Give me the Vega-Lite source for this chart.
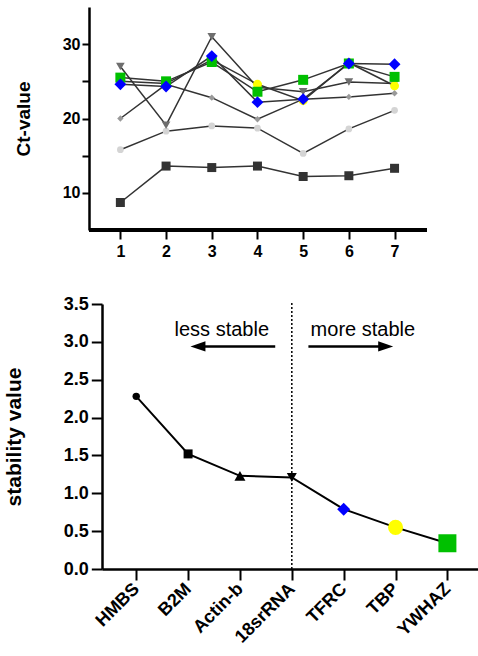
{
  "$schema": "https://vega.github.io/schema/vega-lite/v6.json",
  "padding": {"left": 3, "top": 7, "right": 0, "bottom": 0},
  "autosize": {"type": "pad"},
  "spacing": 36,
  "columns": 1,
  "resolve": {"scale": {"color": "independent", "shape": "independent", "size": "independent"}},
  "config": {
    "view": {"stroke": null},
    "font": "Liberation Sans",
    "axis": {"grid": false, "domainColor": "black", "tickColor": "black", "labelColor": "black", "titleColor": "black", "labelFontWeight": "bold", "titleFontWeight": "bold", "labelOverlap": false}
  },
  "concat": [
    {
      "width": 325,
      "height": 223,
      "data": {"values": [
        {"gene": "B2M", "sample": 1, "ct": 8.7}, {"gene": "B2M", "sample": 2, "ct": 13.6}, {"gene": "B2M", "sample": 3, "ct": 13.4}, {"gene": "B2M", "sample": 4, "ct": 13.6}, {"gene": "B2M", "sample": 5, "ct": 12.2}, {"gene": "B2M", "sample": 6, "ct": 12.3}, {"gene": "B2M", "sample": 7, "ct": 13.3},
        {"gene": "HMBS", "sample": 1, "ct": 15.8}, {"gene": "HMBS", "sample": 2, "ct": 18.3}, {"gene": "HMBS", "sample": 3, "ct": 19.0}, {"gene": "HMBS", "sample": 4, "ct": 18.7}, {"gene": "HMBS", "sample": 5, "ct": 15.3}, {"gene": "HMBS", "sample": 6, "ct": 18.6}, {"gene": "HMBS", "sample": 7, "ct": 21.1},
        {"gene": "Actin-b", "sample": 1, "ct": 20.0}, {"gene": "Actin-b", "sample": 2, "ct": 24.6}, {"gene": "Actin-b", "sample": 3, "ct": 22.8}, {"gene": "Actin-b", "sample": 4, "ct": 19.9}, {"gene": "Actin-b", "sample": 5, "ct": 22.6}, {"gene": "Actin-b", "sample": 6, "ct": 22.9}, {"gene": "Actin-b", "sample": 7, "ct": 23.4},
        {"gene": "18srRNA", "sample": 1, "ct": 27.0}, {"gene": "18srRNA", "sample": 2, "ct": 19.1}, {"gene": "18srRNA", "sample": 3, "ct": 31.0}, {"gene": "18srRNA", "sample": 4, "ct": 24.2}, {"gene": "18srRNA", "sample": 5, "ct": 23.6}, {"gene": "18srRNA", "sample": 6, "ct": 24.9}, {"gene": "18srRNA", "sample": 7, "ct": 24.7},
        {"gene": "TBP", "sample": 1, "ct": 25.0}, {"gene": "TBP", "sample": 2, "ct": 24.7}, {"gene": "TBP", "sample": 3, "ct": 27.9}, {"gene": "TBP", "sample": 4, "ct": 24.6}, {"gene": "TBP", "sample": 5, "ct": 22.4}, {"gene": "TBP", "sample": 6, "ct": 27.5}, {"gene": "TBP", "sample": 7, "ct": 24.4},
        {"gene": "YWHAZ", "sample": 1, "ct": 25.5}, {"gene": "YWHAZ", "sample": 2, "ct": 25.0}, {"gene": "YWHAZ", "sample": 3, "ct": 27.6}, {"gene": "YWHAZ", "sample": 4, "ct": 23.6}, {"gene": "YWHAZ", "sample": 5, "ct": 25.2}, {"gene": "YWHAZ", "sample": 6, "ct": 27.4}, {"gene": "YWHAZ", "sample": 7, "ct": 25.6},
        {"gene": "TFRC", "sample": 1, "ct": 24.6}, {"gene": "TFRC", "sample": 2, "ct": 24.3}, {"gene": "TFRC", "sample": 3, "ct": 28.4}, {"gene": "TFRC", "sample": 4, "ct": 22.2}, {"gene": "TFRC", "sample": 5, "ct": 22.6}, {"gene": "TFRC", "sample": 6, "ct": 27.4}, {"gene": "TFRC", "sample": 7, "ct": 27.3}
      ]},
      "layer": [
        {
          "mark": {"type": "rule", "color": "black", "strokeWidth": 2.5},
          "encoding": {
            "x": {"datum": 0.32, "type": "quantitative"},
            "x2": {"datum": 7.71},
            "y": {"datum": 5, "type": "quantitative"}
          }
        },
        {
          "encoding": {
            "x": {"field": "sample", "type": "quantitative", "scale": {"domain": [0.598, 7.71], "nice": false, "zero": false},
              "axis": {"values": [1, 2, 3, 4, 5, 6, 7], "title": null, "domain": false, "tickWidth": 2, "tickSize": 9, "labelPadding": 4, "labelFontSize": 16, "labelFlush": false, "labelOverlap": false}},
            "y": {"field": "ct", "type": "quantitative", "scale": {"domain": [5, 35], "nice": false, "zero": false},
              "axis": {"values": [10, 15, 20, 25, 30], "tickCount": 7, "offset": 13, "labelExpr": "datum.value % 10 === 0 ? datum.label : ''", "title": "Ct-value", "titleFontSize": 19, "titlePadding": 29, "domainWidth": 2.5, "tickWidth": 2, "tickSize": 7, "labelPadding": 2, "labelFontSize": 16, "labelFlush": false, "labelOverlap": false}}
          },
          "layer": [
            {"mark": {"type": "line", "color": "#333333", "strokeWidth": 1.5}, "encoding": {"detail": {"field": "gene"}}},
            {"mark": {"type": "point", "filled": true, "opacity": 1, "strokeWidth": 0},
              "encoding": {
                "shape": {"field": "gene", "legend": null, "scale": {"domain": ["B2M", "HMBS", "Actin-b", "18srRNA", "TBP", "YWHAZ", "TFRC"], "range": ["square", "circle", "diamond", "triangle-down", "circle", "square", "diamond"]}},
                "color": {"field": "gene", "legend": null, "scale": {"domain": ["B2M", "HMBS", "Actin-b", "18srRNA", "TBP", "YWHAZ", "TFRC"], "range": ["#333333", "#d4d4d4", "#999999", "#6e6e6e", "#ffff00", "#00c000", "#0000ff"]}},
                "size": {"field": "gene", "legend": null, "scale": {"type": "ordinal", "domain": ["B2M", "HMBS", "Actin-b", "18srRNA", "TBP", "YWHAZ", "TFRC"], "range": [81, 45, 40, 75, 80, 100, 140]}}
              }}
          ]
        }
      ]
    },
    {
      "width": 376,
      "height": 265,
      "layer": [
        {
          "data": {"values": [
            {"gene": "HMBS", "rank": 0, "stability": 2.28},
            {"gene": "B2M", "rank": 1, "stability": 1.52},
            {"gene": "Actin-b", "rank": 2, "stability": 1.23},
            {"gene": "18srRNA", "rank": 3, "stability": 1.21},
            {"gene": "TFRC", "rank": 4, "stability": 0.79},
            {"gene": "TBP", "rank": 5, "stability": 0.55},
            {"gene": "YWHAZ", "rank": 6, "stability": 0.34}
          ]},
          "encoding": {
            "x": {"field": "rank", "type": "quantitative", "scale": {"domain": [-0.66, 6.59], "nice": false, "zero": false},
              "axis": {"values": [0, 1, 2, 3, 4, 5, 6], "labelExpr": "['HMBS','B2M','Actin-b','18srRNA','TFRC','TBP','YWHAZ'][datum.value]", "title": null, "labelAngle": -45, "labelAlign": "right", "labelBaseline": "middle", "labelPadding": 6, "labelFontSize": 18, "domainWidth": 2.5, "tickWidth": 2, "tickSize": 11, "labelFlush": false, "labelOverlap": false}},
            "y": {"field": "stability", "type": "quantitative", "scale": {"domain": [0, 3.5], "nice": false, "zero": true},
              "axis": {"values": [0, 0.5, 1, 1.5, 2, 2.5, 3, 3.5], "tickCount": 8, "format": ".1f", "title": "stability value", "titleFontSize": 21, "titlePadding": 39, "domainWidth": 2.5, "tickWidth": 2, "tickSize": 10.7, "labelPadding": 3, "labelFontSize": 18, "labelFlush": false, "labelOverlap": false}}
          },
          "layer": [
            {"mark": {"type": "line", "color": "black", "strokeWidth": 2}},
            {"mark": {"type": "point", "filled": true, "opacity": 1, "strokeWidth": 0},
              "encoding": {
                "shape": {"field": "gene", "legend": null, "scale": {"domain": ["HMBS", "B2M", "Actin-b", "18srRNA", "TFRC", "TBP", "YWHAZ"], "range": ["circle", "square", "triangle-up", "triangle-down", "diamond", "circle", "square"]}},
                "color": {"field": "gene", "legend": null, "scale": {"domain": ["HMBS", "B2M", "Actin-b", "18srRNA", "TFRC", "TBP", "YWHAZ"], "range": ["black", "black", "black", "black", "#0000ff", "#ffff00", "#00c000"]}},
                "size": {"field": "gene", "legend": null, "scale": {"type": "ordinal", "domain": ["HMBS", "B2M", "Actin-b", "18srRNA", "TFRC", "TBP", "YWHAZ"], "range": [55, 81, 121, 100, 170, 227, 324]}}
              }}
          ]
        },
        {
          "data": {"values": [{"rank": 3, "y0": 0, "y1": 3.52}]},
          "mark": {"type": "rule", "color": "black", "strokeWidth": 1.5, "strokeDash": [2, 2]},
          "encoding": {"x": {"field": "rank", "type": "quantitative"}, "y": {"field": "y0", "type": "quantitative"}, "y2": {"field": "y1"}}
        },
        {
          "data": {"values": [
            {"dir": "less", "ax": 2.68, "ay": 2.94},
            {"dir": "less", "ax": 1.23, "ay": 2.94},
            {"dir": "more", "ax": 3.32, "ay": 2.94},
            {"dir": "more", "ax": 4.80, "ay": 2.94}
          ]},
          "mark": {"type": "line", "color": "black", "strokeWidth": 2.5},
          "encoding": {"x": {"field": "ax", "type": "quantitative"}, "y": {"field": "ay", "type": "quantitative"}, "detail": {"field": "dir"}}
        },
        {
          "data": {"values": [{"dir": "less", "hx": 1.19, "hy": 2.94}]},
          "mark": {"type": "point", "filled": true, "opacity": 1, "strokeWidth": 0, "color": "black", "size": 225, "shape": "M-1,0L1,-0.67L1,0.67Z"},
          "encoding": {"x": {"field": "hx", "type": "quantitative"}, "y": {"field": "hy", "type": "quantitative"}}
        },
        {
          "data": {"values": [{"dir": "more", "hx": 4.81, "hy": 2.94}]},
          "mark": {"type": "point", "filled": true, "opacity": 1, "strokeWidth": 0, "color": "black", "size": 225, "shape": "M1,0L-1,-0.67L-1,0.67Z"},
          "encoding": {"x": {"field": "hx", "type": "quantitative"}, "y": {"field": "hy", "type": "quantitative"}}
        },
        {
          "data": {"values": [
            {"label": "less stable", "tx": 1.65, "ty": 3.08},
            {"label": "more stable", "tx": 4.37, "ty": 3.08}
          ]},
          "mark": {"type": "text", "fontSize": 20, "color": "black", "align": "center", "baseline": "alphabetic"},
          "encoding": {"x": {"field": "tx", "type": "quantitative"}, "y": {"field": "ty", "type": "quantitative"}, "text": {"field": "label"}}
        }
      ]
    }
  ]
}
